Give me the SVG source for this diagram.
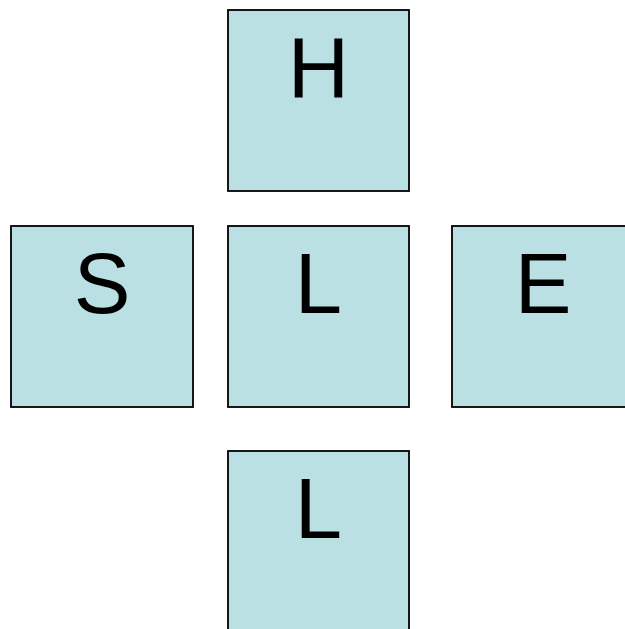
<svg xmlns="http://www.w3.org/2000/svg" width="625" height="629" viewBox="0 0 625 629">
<style>
.box{fill:#bbe0e3;stroke:#000;stroke-width:1.8}
.lbl{font-family:"Liberation Sans",Arial,sans-serif;font-size:85px;fill:#000;text-anchor:middle}
</style>
<rect width="625" height="629" fill="#fff"/>
<g id="node-H"><rect class="box" x="228" y="10" width="181" height="181"/><text class="lbl" x="318.5" y="97">H</text></g>
<g id="node-S"><rect class="box" x="11" y="226" width="182" height="181"/><text class="lbl" x="102" y="313">S</text></g>
<g id="node-L1"><rect class="box" x="228" y="226" width="181" height="181"/><text class="lbl" x="318.5" y="313">L</text></g>
<g id="node-E"><rect class="box" x="452" y="226" width="182" height="181"/><text class="lbl" x="543" y="313">E</text></g>
<g id="node-L2"><rect class="box" x="228" y="451" width="181" height="182"/><text class="lbl" x="318.5" y="538">L</text></g>
<g id="connectors"></g>
</svg>
